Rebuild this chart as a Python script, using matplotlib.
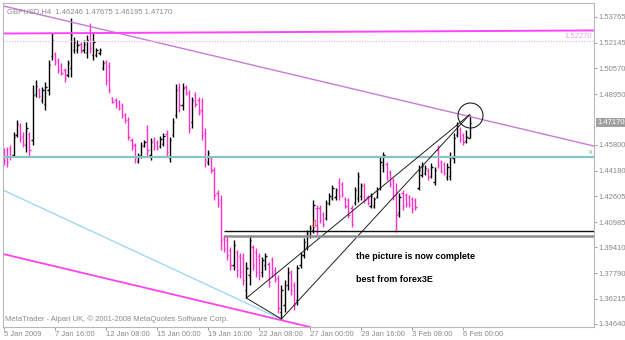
import numpy as np
import matplotlib.pyplot as plt

plt.rcParams['font.family'] = ['Liberation Sans', 'DejaVu Sans']

# GBPUSD H4 bars (bar 0 = 5 Jan 2009 00:00)
highs = [1.4560, 1.4566, 1.4579, 1.4660, 1.4734, 1.4716, 1.4660, 1.4722, 1.4660, 1.4952,
         1.4984, 1.4934, 1.4940, 1.4971, 1.5108, 1.5276, 1.5158, 1.5121, 1.5089, 1.5058,
         1.5108, 1.5370, 1.5251, 1.5233, 1.5220, 1.5233, 1.5264, 1.5339, 1.5276, 1.5183,
         1.5183, 1.5108, 1.5108, 1.5096, 1.4878, 1.4871, 1.4859, 1.4840, 1.4778, 1.4753,
         1.4622, 1.4591, 1.4529, 1.4597, 1.4610, 1.4703, 1.4622, 1.4628, 1.4610, 1.4635,
         1.4653, 1.4672, 1.4628, 1.4747, 1.4959, 1.4965, 1.4965, 1.4952, 1.4921, 1.4878,
         1.4909, 1.4878, 1.4871, 1.4685, 1.4548, 1.4504, 1.4442, 1.4298, 1.4267, 1.4018,
         1.4005, 1.3943, 1.3987, 1.3925, 1.3906, 1.3906, 1.3850, 1.4018, 1.3956, 1.3937,
         1.3906, 1.3881, 1.3906, 1.3850, 1.3881, 1.3819, 1.3769, 1.3706, 1.3738, 1.3819,
         1.3800, 1.3725, 1.3831, 1.3912, 1.3999, 1.4049, 1.4080, 1.4236, 1.4205, 1.4205,
         1.4161, 1.4236, 1.4280, 1.4329, 1.4311, 1.4373, 1.4348, 1.4255, 1.4248, 1.4205,
         1.4317, 1.4410, 1.4342, 1.4342, 1.4267, 1.4280, 1.4255, 1.4317, 1.4504, 1.4535,
         1.4473, 1.4423, 1.4373, 1.4342, 1.4280, 1.4298, 1.4280, 1.4267, 1.4255, 1.4248,
         1.4454, 1.4473, 1.4454, 1.4435, 1.4467, 1.4442, 1.4579, 1.4485, 1.4473, 1.4467,
         1.4535, 1.4653, 1.4722, 1.4691, 1.4653, 1.4672, 1.47675]
lows = [1.4454, 1.4442, 1.4485, 1.4504, 1.4628, 1.4597, 1.4566, 1.4535, 1.4504, 1.4579,
        1.4878, 1.4871, 1.4840, 1.4797, 1.4890, 1.5108, 1.5077, 1.5027, 1.5015, 1.4971,
        1.5002, 1.5002, 1.5152, 1.5152, 1.5152, 1.5152, 1.5121, 1.5152, 1.5108, 1.5127,
        1.5139, 1.5046, 1.4952, 1.4903, 1.4840, 1.4809, 1.4797, 1.4747, 1.4716, 1.4610,
        1.4548, 1.4467, 1.4467, 1.4498, 1.4566, 1.4504, 1.4485, 1.4548, 1.4548, 1.4560,
        1.4572, 1.4504, 1.4473, 1.4628, 1.4747, 1.4784, 1.4797, 1.4890, 1.4653, 1.4685,
        1.4815, 1.4766, 1.4610, 1.4442, 1.4454, 1.4404, 1.4236, 1.4192, 1.3925, 1.3912,
        1.3862, 1.3800, 1.3800, 1.3756, 1.3750, 1.3706, 1.3625, 1.3706, 1.3800, 1.3756,
        1.3738, 1.3756, 1.3800, 1.3694, 1.3756, 1.3725, 1.3532, 1.3495, 1.3538, 1.3675,
        1.3644, 1.3551, 1.3582, 1.3813, 1.3875, 1.3925, 1.3999, 1.4030, 1.4018, 1.4093,
        1.4068, 1.4111, 1.4205, 1.4236, 1.4236, 1.4236, 1.4255, 1.4186, 1.4124, 1.4068,
        1.4205, 1.4224, 1.4236, 1.4217, 1.4205, 1.4186, 1.4186, 1.4248, 1.4298, 1.4410,
        1.4361, 1.4317, 1.4236, 1.4037, 1.4130, 1.4174, 1.4192, 1.4192, 1.4155, 1.4174,
        1.4298, 1.4379, 1.4392, 1.4361, 1.4373, 1.4329, 1.4435, 1.4404, 1.4392, 1.4361,
        1.4361, 1.4467, 1.4628, 1.4597, 1.4579, 1.4591, 1.46195]
opens = [1.4535, 1.4548, 1.4560, 1.4516, 1.4641, 1.4697, 1.4635, 1.4579, 1.4647, 1.4610,
         1.4896, 1.4921, 1.4859, 1.4834, 1.4921, 1.5133, 1.5146, 1.5108, 1.5071, 1.5046,
         1.5015, 1.5058, 1.5171, 1.5171, 1.5208, 1.5171, 1.5158, 1.5295, 1.5139, 1.5139,
         1.5152, 1.5058, 1.5096, 1.5071, 1.4871, 1.4859, 1.4847, 1.4828, 1.4766, 1.4734,
         1.4610, 1.4579, 1.4479, 1.4516, 1.4572, 1.4672, 1.4516, 1.4610, 1.4597, 1.4572,
         1.4585, 1.4647, 1.4498, 1.4641, 1.4766, 1.4934, 1.4828, 1.4940, 1.4903, 1.4722,
         1.4890, 1.4859, 1.4797, 1.4653, 1.4473, 1.4498, 1.4423, 1.4280, 1.4236, 1.3999,
         1.3987, 1.3925, 1.3831, 1.3912, 1.3887, 1.3875, 1.3675, 1.3769, 1.3943, 1.3912,
         1.3887, 1.3787, 1.3831, 1.3837, 1.3862, 1.3800, 1.3750, 1.3538, 1.3582, 1.3706,
         1.3781, 1.3706, 1.3613, 1.3831, 1.3893, 1.3943, 1.4012, 1.4049, 1.4186, 1.4186,
         1.4149, 1.4124, 1.4217, 1.4248, 1.4255, 1.4348, 1.4336, 1.4242, 1.4236, 1.4186,
         1.4217, 1.4248, 1.4261, 1.4323, 1.4255, 1.4199, 1.4199, 1.4255, 1.4311, 1.4454,
         1.4460, 1.4410, 1.4361, 1.4267, 1.4155, 1.4280, 1.4267, 1.4255, 1.4242, 1.4236,
         1.4311, 1.4392, 1.4404, 1.4423, 1.4385, 1.4348, 1.4548, 1.4473, 1.4460, 1.4379,
         1.4385, 1.4498, 1.4641, 1.4678, 1.4641, 1.4604, 1.46246]
closes = [1.4485, 1.4473, 1.4510, 1.4628, 1.4709, 1.4622, 1.4585, 1.4685, 1.4548, 1.4890,
          1.4946, 1.4884, 1.4921, 1.4940, 1.5077, 1.5233, 1.5096, 1.5046, 1.5027, 1.4996,
          1.5089, 1.5264, 1.5220, 1.5202, 1.5164, 1.5208, 1.5233, 1.5183, 1.5220, 1.5171,
          1.5171, 1.5089, 1.4984, 1.4921, 1.4847, 1.4828, 1.4809, 1.4766, 1.4734, 1.4628,
          1.4566, 1.4498, 1.4516, 1.4579, 1.4597, 1.4548, 1.4597, 1.4572, 1.4560, 1.4616,
          1.4635, 1.4535, 1.4610, 1.4722, 1.4921, 1.4828, 1.4934, 1.4903, 1.4685, 1.4859,
          1.4834, 1.4784, 1.4641, 1.4485, 1.4529, 1.4423, 1.4267, 1.4217, 1.3987, 1.3937,
          1.3893, 1.3831, 1.3956, 1.3800, 1.3787, 1.3738, 1.3813, 1.3987, 1.3831, 1.3787,
          1.3769, 1.3862, 1.3887, 1.3725, 1.3781, 1.3744, 1.3563, 1.3675, 1.3706, 1.3787,
          1.3675, 1.3582, 1.3813, 1.3893, 1.3974, 1.4030, 1.4062, 1.4205, 1.4062, 1.4111,
          1.4086, 1.4217, 1.4261, 1.4311, 1.4298, 1.4261, 1.4273, 1.4199, 1.4143, 1.4086,
          1.4298, 1.4385, 1.4329, 1.4236, 1.4217, 1.4261, 1.4242, 1.4305, 1.4473, 1.4516,
          1.4379, 1.4336, 1.4261, 1.4143, 1.4255, 1.4199, 1.4211, 1.4205, 1.4180, 1.4192,
          1.4423, 1.4448, 1.4435, 1.4379, 1.4442, 1.4423, 1.4454, 1.4417, 1.4404, 1.4442,
          1.4504, 1.4622, 1.4697, 1.4616, 1.4597, 1.4628, 1.47170]

date_ticks = [0, 16, 32, 48, 64, 80, 96, 112, 128, 144]
date_labels = ["5 Jan 2009", "7 Jan 16:00", "12 Jan 08:00", "15 Jan 00:00", "19 Jan 16:00",
               "22 Jan 08:00", "27 Jan 00:00", "29 Jan 16:00", "3 Feb 08:00", "6 Feb 00:00"]
price_ticks = [1.53765, 1.52145, 1.50570, 1.48950, 1.45800, 1.44180, 1.42605,
               1.40985, 1.39410, 1.37790, 1.36215, 1.34640]

# drawn objects: (bar index, price) anchors
upper_trend = ([-0.3, 185.0], [1.5445, 1.4572])
top_line = ([-0.3, 185.0], [1.5273, 1.5292])
blue_trend = ([-0.3, 87.5], [1.4298, 1.3488])
lower_trend = ([-0.3, 95.9], [1.3900, 1.3445])
wedge_a = ([76, 146], [1.3625, 1.47675])
wedge_b = ([87, 146], [1.3495, 1.47675])
wedge_base = ([76, 87], [1.3625, 1.3495])
level_pink = 1.5227
level_cyan = 1.4505
box_hi, box_lo, box_from = 1.4045, 1.4009, 69

fig = plt.figure(figsize=(6.25, 3.4), dpi=100)
ax = fig.add_axes([3 / 625, 13 / 340, 591 / 625, 324 / 340])
ax.set_xlim(-0.3, 185.0)
ax.set_ylim(1.3445, 1.5463)

# bars
x = np.arange(len(highs))
o = np.array(opens)
c = np.array(closes)
cols = np.where(c >= o, '#000000', '#ff2fc8')
ax.vlines(x, lows, highs, colors=cols, lw=1.0)
ax.hlines(o, x - 0.4, x, colors=cols, lw=1.0)
ax.hlines(c, x, x + 0.4, colors=cols, lw=1.0)

# lines
ax.plot(*upper_trend, color='#c87ada', lw=1.0)
ax.plot(*top_line, color='#ff44ff', lw=1.4)
ax.axhline(level_pink, color='#ecc6ec', lw=1.0, ls=(0, (1, 1)))
ax.text(184.5, level_pink + 0.0006, "1.52270", color='#e6a6e6', fontsize=5.5, ha='right', va='bottom')
ax.axhline(level_cyan, color='#88c2c2', lw=1.6)
ax.text(184.5, level_cyan + 0.0008, "x", color='#66aaaa', fontsize=5, ha='right', va='bottom')
ax.plot(*blue_trend, color='#9fd8f2', lw=1.0)
ax.plot(*lower_trend, color='#ff44ee', lw=1.3)
for ln in (wedge_a, wedge_b, wedge_base):
    ax.plot(*ln, color='#202020', lw=0.7)
ax.hlines(box_hi, box_from, 185.0, color='#101010', lw=1.0)
ax.hlines(box_lo, box_from, 185.0, color='#8c8c8c', lw=1.8)
ax.plot([146], [1.4766], marker='o', ms=18, mfc='none', mec='#202020', mew=0.8)
ax.text(97, 1.4080, "\u21e9", color='#ff2020', fontsize=8, ha='center', va='center',
        family='DejaVu Sans')

ax.text(110.3, 1.3881, "the picture is now complete", fontsize=6.5, fontweight='bold',
        va='center', ha='left')
ax.text(110.3, 1.3738, "best from forex3E", fontsize=6.5, fontweight='bold',
        va='center', ha='left')

ax.text(0.007, 0.985, "GBPUSD,H4  1.46246 1.47675 1.46195 1.47170", transform=ax.transAxes,
        color='#8a8a8a', fontsize=5.5, va='top', ha='left')
ax.text(0.003, 0.012, "MetaTrader - Alpari UK, \u00a9 2001-2008 MetaQuotes Software Corp.",
        transform=ax.transAxes, color='#8a8a8a', fontsize=5.5, va='bottom', ha='left')

# axes
ax.yaxis.tick_right()
ax.set_yticks(price_ticks)
ax.set_yticklabels([f"{p:.5f}" for p in price_ticks])
ax.set_xticks(date_ticks)
ax.set_xticklabels(date_labels)
ax.tick_params(axis='both', labelsize=5.5, colors='#8a8a8a', length=2, width=0.6, pad=1)
for lab in ax.get_xticklabels():
    lab.set_ha('left')
for side in ax.spines:
    ax.spines[side].set_color('#b8b8b8')
    ax.spines[side].set_linewidth(0.8)
ax.spines['top'].set_linestyle((0, (1, 1)))
ax.spines['left'].set_linestyle((0, (1, 1)))

ax.annotate("1.47170", xy=(1.0, 1.4717), xycoords=('axes fraction', 'data'),
            xytext=(2.5, 0), textcoords='offset points', fontsize=5.5, color='white',
            va='center', ha='left', annotation_clip=False,
            bbox=dict(boxstyle='square,pad=0.15', fc='#a0a0a0', ec='none'))

fig.savefig("out.png", dpi=100)
